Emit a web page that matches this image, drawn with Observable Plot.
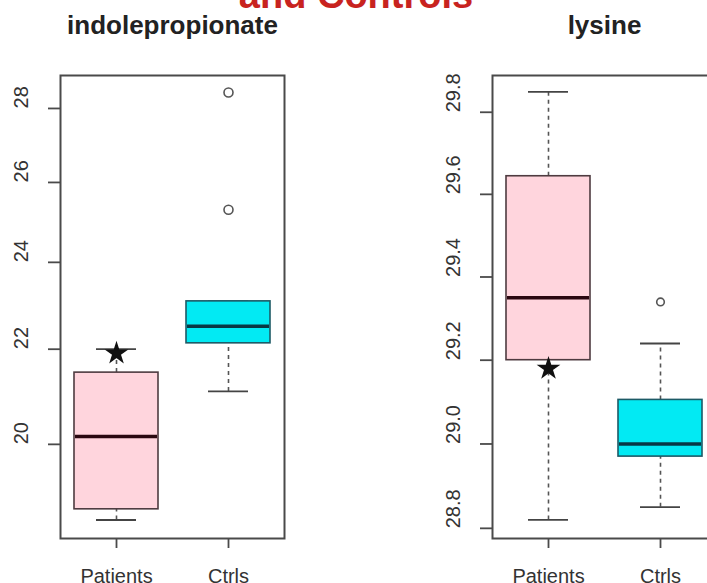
<!DOCTYPE html>
<html><head><meta charset="utf-8">
<script src="https://cdn.jsdelivr.net/npm/d3@7"></script>
<script src="https://cdn.jsdelivr.net/npm/@observablehq/plot@0.6"></script>
<style>
html,body{margin:0;padding:0;background:#fff;}
#wrap{position:relative;width:707px;height:583px;overflow:hidden;background:#fff;font-family:"Liberation Sans",Arial,sans-serif;}
#header{position:absolute;left:0;width:712px;text-align:center;top:-24px;font-size:38px;line-height:38px;font-weight:bold;color:#c8231f;white-space:nowrap;}
.panel{position:absolute;top:0;}
.panel svg{overflow:visible;display:block;max-width:none !important;height:583px !important;}
.panel [aria-label="x-axis tick"], .panel [aria-label="y-axis tick"]{stroke-width:1.8px}
</style>
</head><body>
<div id="wrap">
  <div id="header">and Controls</div>
  <div class="panel" id="p1" style="left:0px;width:310px"></div>
  <div class="panel" id="p2" style="left:400px;width:330px"></div>
</div>
<script>
const groups = ["Patients", "Ctrls"];

// indolepropionate
const indoleTitle = "indolepropionate";
const indoleLowWhisker = [18.54, 21.09];
const indoleQ1 = [18.74, 22.13];
const indoleMedian = [20.16, 22.51];
const indoleQ3 = [21.49, 23.08];
const indoleHighWhisker = [22.0, 23.08];
const indoleOutlierGroup = ["Ctrls", "Ctrls"];
const indoleOutlierValue = [25.3, 28.45];
const indoleStarGroup = ["Patients"];
const indoleStarValue = [21.91];
const indoleTicks = [20, 22, 24, 26, 28];

// lysine
const lysineTitle = "lysine";
const lysineLowWhisker = [28.82, 28.85];
const lysineQ1 = [29.2, 28.97];
const lysineMedian = [29.35, 29.0];
const lysineQ3 = [29.644, 29.105];
const lysineHighWhisker = [29.85, 29.24];
const lysineOutlierGroup = ["Ctrls"];
const lysineOutlierValue = [29.34];
const lysineStarGroup = ["Patients"];
const lysineStarValue = [29.18];
const lysineTicks = [28.8, 29.0, 29.2, 29.4, 29.6, 29.8];

// styles
const boxFill = {Patients: "#ffd5dd", Ctrls: "#02eaf3"};
const boxStroke = {Patients: "#4e3b40", Ctrls: "#1d5a66"};
const medStroke = {Patients: "#2a0810", Ctrls: "#083844"};

function panel(o) {
  const rows = groups.map((g, i) => ({group: g, low: o.low[i], q1: o.q1[i], med: o.med[i], q3: o.q3[i], high: o.high[i]}));
  const outliers = o.outG.map((g, i) => ({group: g, value: o.outV[i]}));
  const stars = o.starG.map((g, i) => ({group: g, value: o.starV[i]}));
  return Plot.plot({
    width: o.width, height: 583,
    marginTop: 75, marginBottom: 45, marginLeft: o.marginLeft, marginRight: o.marginRight,
    style: {background: "transparent", fontFamily: "Liberation Sans, Arial, sans-serif", color: "#4a4a4a", maxWidth: "none"},
    x: {type: "band", domain: groups, padding: 0, tickSize: 10, tickFormat: () => "", label: null},
    y: {type: "log", domain: o.domain, ticks: o.ticks, tickSize: 12, tickFormat: () => "", label: null},
    color: {type: "identity"},
    marks: [
      Plot.ruleX(rows, {x: "group", y1: "q3", y2: "high", stroke: "#555", strokeWidth: 1.6, strokeDasharray: "4,4"}),
      Plot.ruleX(rows, {x: "group", y1: "low", y2: "q1", stroke: "#555", strokeWidth: 1.6, strokeDasharray: "4,4"}),
      Plot.tickY(rows, {x: "group", y: "high", insetLeft: 36, insetRight: 36, stroke: "#444", strokeWidth: 1.8}),
      Plot.tickY(rows, {x: "group", y: "low", insetLeft: 36, insetRight: 36, stroke: "#444", strokeWidth: 1.8}),
      Plot.barY(rows, {x: "group", y1: "q1", y2: "q3", insetLeft: 14, insetRight: 14, fill: d => boxFill[d.group], stroke: d => boxStroke[d.group], strokeWidth: 1.6}),
      Plot.tickY(rows, {x: "group", y: "med", insetLeft: 15, insetRight: 15, stroke: d => medStroke[d.group], strokeWidth: 3.5}),
      Plot.dot(outliers, {x: "group", y: "value", r: o.outR, stroke: "#555", strokeWidth: 1.6, fill: "none"}),
      Plot.dot(stars, {x: "group", y: "value", symbol: "star", r: 6, fill: "#111", stroke: "#111"}),
      Plot.frame({stroke: "#4a4a4a", strokeWidth: 2}),
      Plot.text(o.ticks, {y: d => d, text: d => o.fmt(d), frameAnchor: "left", dx: -39, rotate: -90, fontSize: 20, fill: "#333"}),
      Plot.text(groups, {x: d => d, text: d => d, frameAnchor: "bottom", dy: 44, fontSize: 20, fill: "#333"}),
      Plot.text([o.title], {frameAnchor: "top", lineAnchor: "bottom", dy: -42, fontSize: 26, fontWeight: "bold", fill: "#222"})
    ]
  });
}

document.getElementById("p1").appendChild(panel({
  title: indoleTitle, low: indoleLowWhisker, q1: indoleQ1, med: indoleMedian, q3: indoleQ3, high: indoleHighWhisker,
  outG: indoleOutlierGroup, outV: indoleOutlierValue, starG: indoleStarGroup, starV: indoleStarValue,
  ticks: indoleTicks, fmt: d3.format("d"), domain: [18.2, 28.94],
  width: 310, marginLeft: 60, marginRight: 26, outR: 4.5
}));

document.getElementById("p2").appendChild(panel({
  title: lysineTitle, low: lysineLowWhisker, q1: lysineQ1, med: lysineMedian, q3: lysineQ3, high: lysineHighWhisker,
  outG: lysineOutlierGroup, outV: lysineOutlierValue, starG: lysineStarGroup, starV: lysineStarValue,
  ticks: lysineTicks, fmt: d3.format(".1f"), domain: [28.776, 29.89],
  width: 330, marginLeft: 92, marginRight: 14, outR: 3.8
}));
</script>
</body></html>
